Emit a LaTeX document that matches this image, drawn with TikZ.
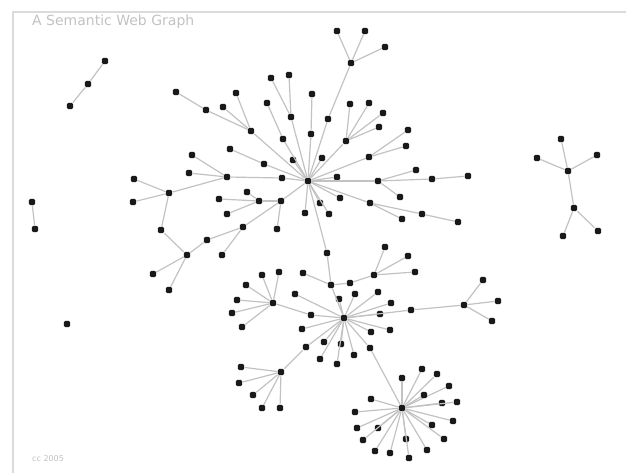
\documentclass[tikz,border=0pt]{standalone}
\usepackage{fontspec}
\setmainfont{DejaVu Sans}
\usepackage{tikz}
\usepackage{xcolor}

\begin{document}
\begin{tikzpicture}[x=1pt, y=-1pt,
    dot/.style={rounded corners=1.5pt, rectangle, fill=black!90, inner sep=0pt, minimum size=6.3pt},
    link/.style={draw=black!24, line width=1.2pt},
    faint/.style={text=black!24, inner sep=0pt}]
    \useasboundingbox (0,0) rectangle (626,473);
    \draw[black!14, line width=1.8pt] (626,12) -- (13,12) -- (13,473);
    \node[faint, anchor=west, font=\fontsize{14}{16}\selectfont] (title) at (32,22) {A Semantic Web Graph};
    \node[faint, anchor=west, font=\fontsize{8}{10}\selectfont] (year) at (32,459) {cc 2005};
    % hubs
    \foreach \n/\x/\y in {hubA/308/181, hubB/344/318, hubC/273/303, hubD/281/372, hubE/464/305, hubF/402/408}
        \node[dot] (\n) at (\x,\y) {};
    % upper cluster
    \foreach \n/\x/\y in {t1/337/31, t2/365/31, t3/385/47, t4/351/63, t5/328/119,
        a1/176/92, a2/206/110, a3/223/107, a4/236/93, a5/251/131,
        b1/271/78, b2/289/75, b3/291/117, c1/267/103, c2/283/139, c3/293/160,
        d1/312/94, d2/311/134, e1/230/149, e2/264/164,
        f1/192/155, f2/189/173, f3/227/177, f4/282/178,
        g1/134/179, g2/133/202, g3/169/193, g4/161/230, g5/187/255, g6/153/274,
        g7/169/290, g8/207/240, g9/243/227, g10/222/255,
        k1/219/199, k2/247/192, k3/227/214, k4/281/201, k5/259/201, k6/277/229, k7/305/213,
        m1/350/104, m2/369/103, m3/383/113, m4/379/127, m5/346/141, m6/322/158,
        n1/408/130, n2/406/146, n3/369/157,
        o1/337/177, o2/378/181, o3/416/170, o4/432/179, o5/468/176, o6/400/197,
        v1/370/203, v2/402/219, v3/422/214, v4/458/222,
        w1/340/198, w2/320/203, w3/329/214}
        \node[dot] (\n) at (\x,\y) {};
    % middle cluster
    \foreach \n/\x/\y in {x1/327/253, x2/331/285, x3/303/273, x4/350/283, x5/374/275,
        x6/385/247, x7/408/256, x8/415/272,
        y1/339/299, y2/355/294, y3/378/292, y4/391/303, y5/380/314, y6/411/310,
        y7/371/332, y8/390/330, y9/324/342, y10/341/344, y11/370/348, y12/320/359,
        y13/337/364, y14/354/355, y15/302/329, y16/295/294, y17/311/315, y18/306/347,
        z1/483/280, z2/498/301, z3/492/321,
        u1/262/275, u2/279/272, u3/246/285, u4/237/300, u5/232/313, u6/242/327,
        l1/241/367, l2/239/383, l3/253/395, l4/262/408, l5/280/408}
        \node[dot] (\n) at (\x,\y) {};
    % lower star
    \foreach \n/\x/\y in {s1/402/378, s2/422/369, s3/437/374, s4/449/386, s5/424/395,
        s6/442/403, s7/457/402, s8/371/399, s9/355/412, s10/453/421,
        s11/432/425, s12/357/428, s13/378/428, s14/444/439, s15/406/439,
        s16/363/440, s17/427/450, s18/375/451, s19/390/453, s20/409/458}
        {\node[dot] (\n) at (\x,\y) {};
         \draw[link] (\n) -- (hubF);}
    % loose parts
    \foreach \n/\x/\y in {p1/105/61, p2/88/84, p3/70/106, q1/32/202, q2/35/229, lone/67/324,
        r1/561/139, r2/537/158, r3/597/155, r4/568/171, r5/574/208, r6/598/231, r7/563/236}
        \node[dot] (\n) at (\x,\y) {};
    % links
    \foreach \a/\b in {t1/t4, t2/t4, t3/t4, t4/t5, t5/hubA,
        a1/a2, a2/a5, a3/a5, a4/a5, a5/hubA, b1/b3, b2/b3, b3/hubA,
        c1/c2, c2/hubA, c3/hubA, d1/d2, d2/hubA, e1/e2, e2/hubA,
        f1/f3, f2/f3, f3/f4, f4/hubA,
        g1/g3, g2/g3, g3/f3, g3/g4, g4/g5, g5/g6, g5/g7, g5/g8, g8/g9, g10/g9, g9/k4,
        k1/k5, k2/k5, k3/k5, k5/k4, k6/k4, k4/hubA, k7/hubA,
        m1/m5, m2/m5, m3/m5, m4/m5, m5/hubA, m6/hubA, n1/n3, n2/n3, n3/hubA,
        o1/hubA, o2/hubA, o3/o2, o4/o2, o5/o4, o6/o2,
        v1/hubA, v2/v1, v3/v1, v4/v3, w1/hubA, w2/hubA, w3/hubA,
        x1/hubA, x1/x2, x2/hubB, x3/x2, x4/x2, x5/x4, x6/x5, x7/x5, x8/x5,
        y1/hubB, y2/hubB, y3/hubB, y4/hubB, y5/hubB, y6/hubB, y7/hubB, y8/hubB,
        y9/hubB, y10/hubB, y11/hubB, y12/hubB, y13/hubB, y14/hubB, y15/hubB,
        y16/hubB, y17/hubB, y18/hubB,
        y17/hubC, y18/hubD, y6/hubE, y11/hubF,
        z1/hubE, z2/hubE, z3/hubE,
        u1/hubC, u2/hubC, u3/hubC, u4/hubC, u5/hubC, u6/hubC,
        l1/hubD, l2/hubD, l3/hubD, l4/hubD, l5/hubD,
        p1/p2, p2/p3, q1/q2,
        r1/r4, r2/r4, r3/r4, r4/r5, r5/r6, r5/r7}
        \draw[link] (\a) -- (\b);
\end{tikzpicture}
\end{document}
